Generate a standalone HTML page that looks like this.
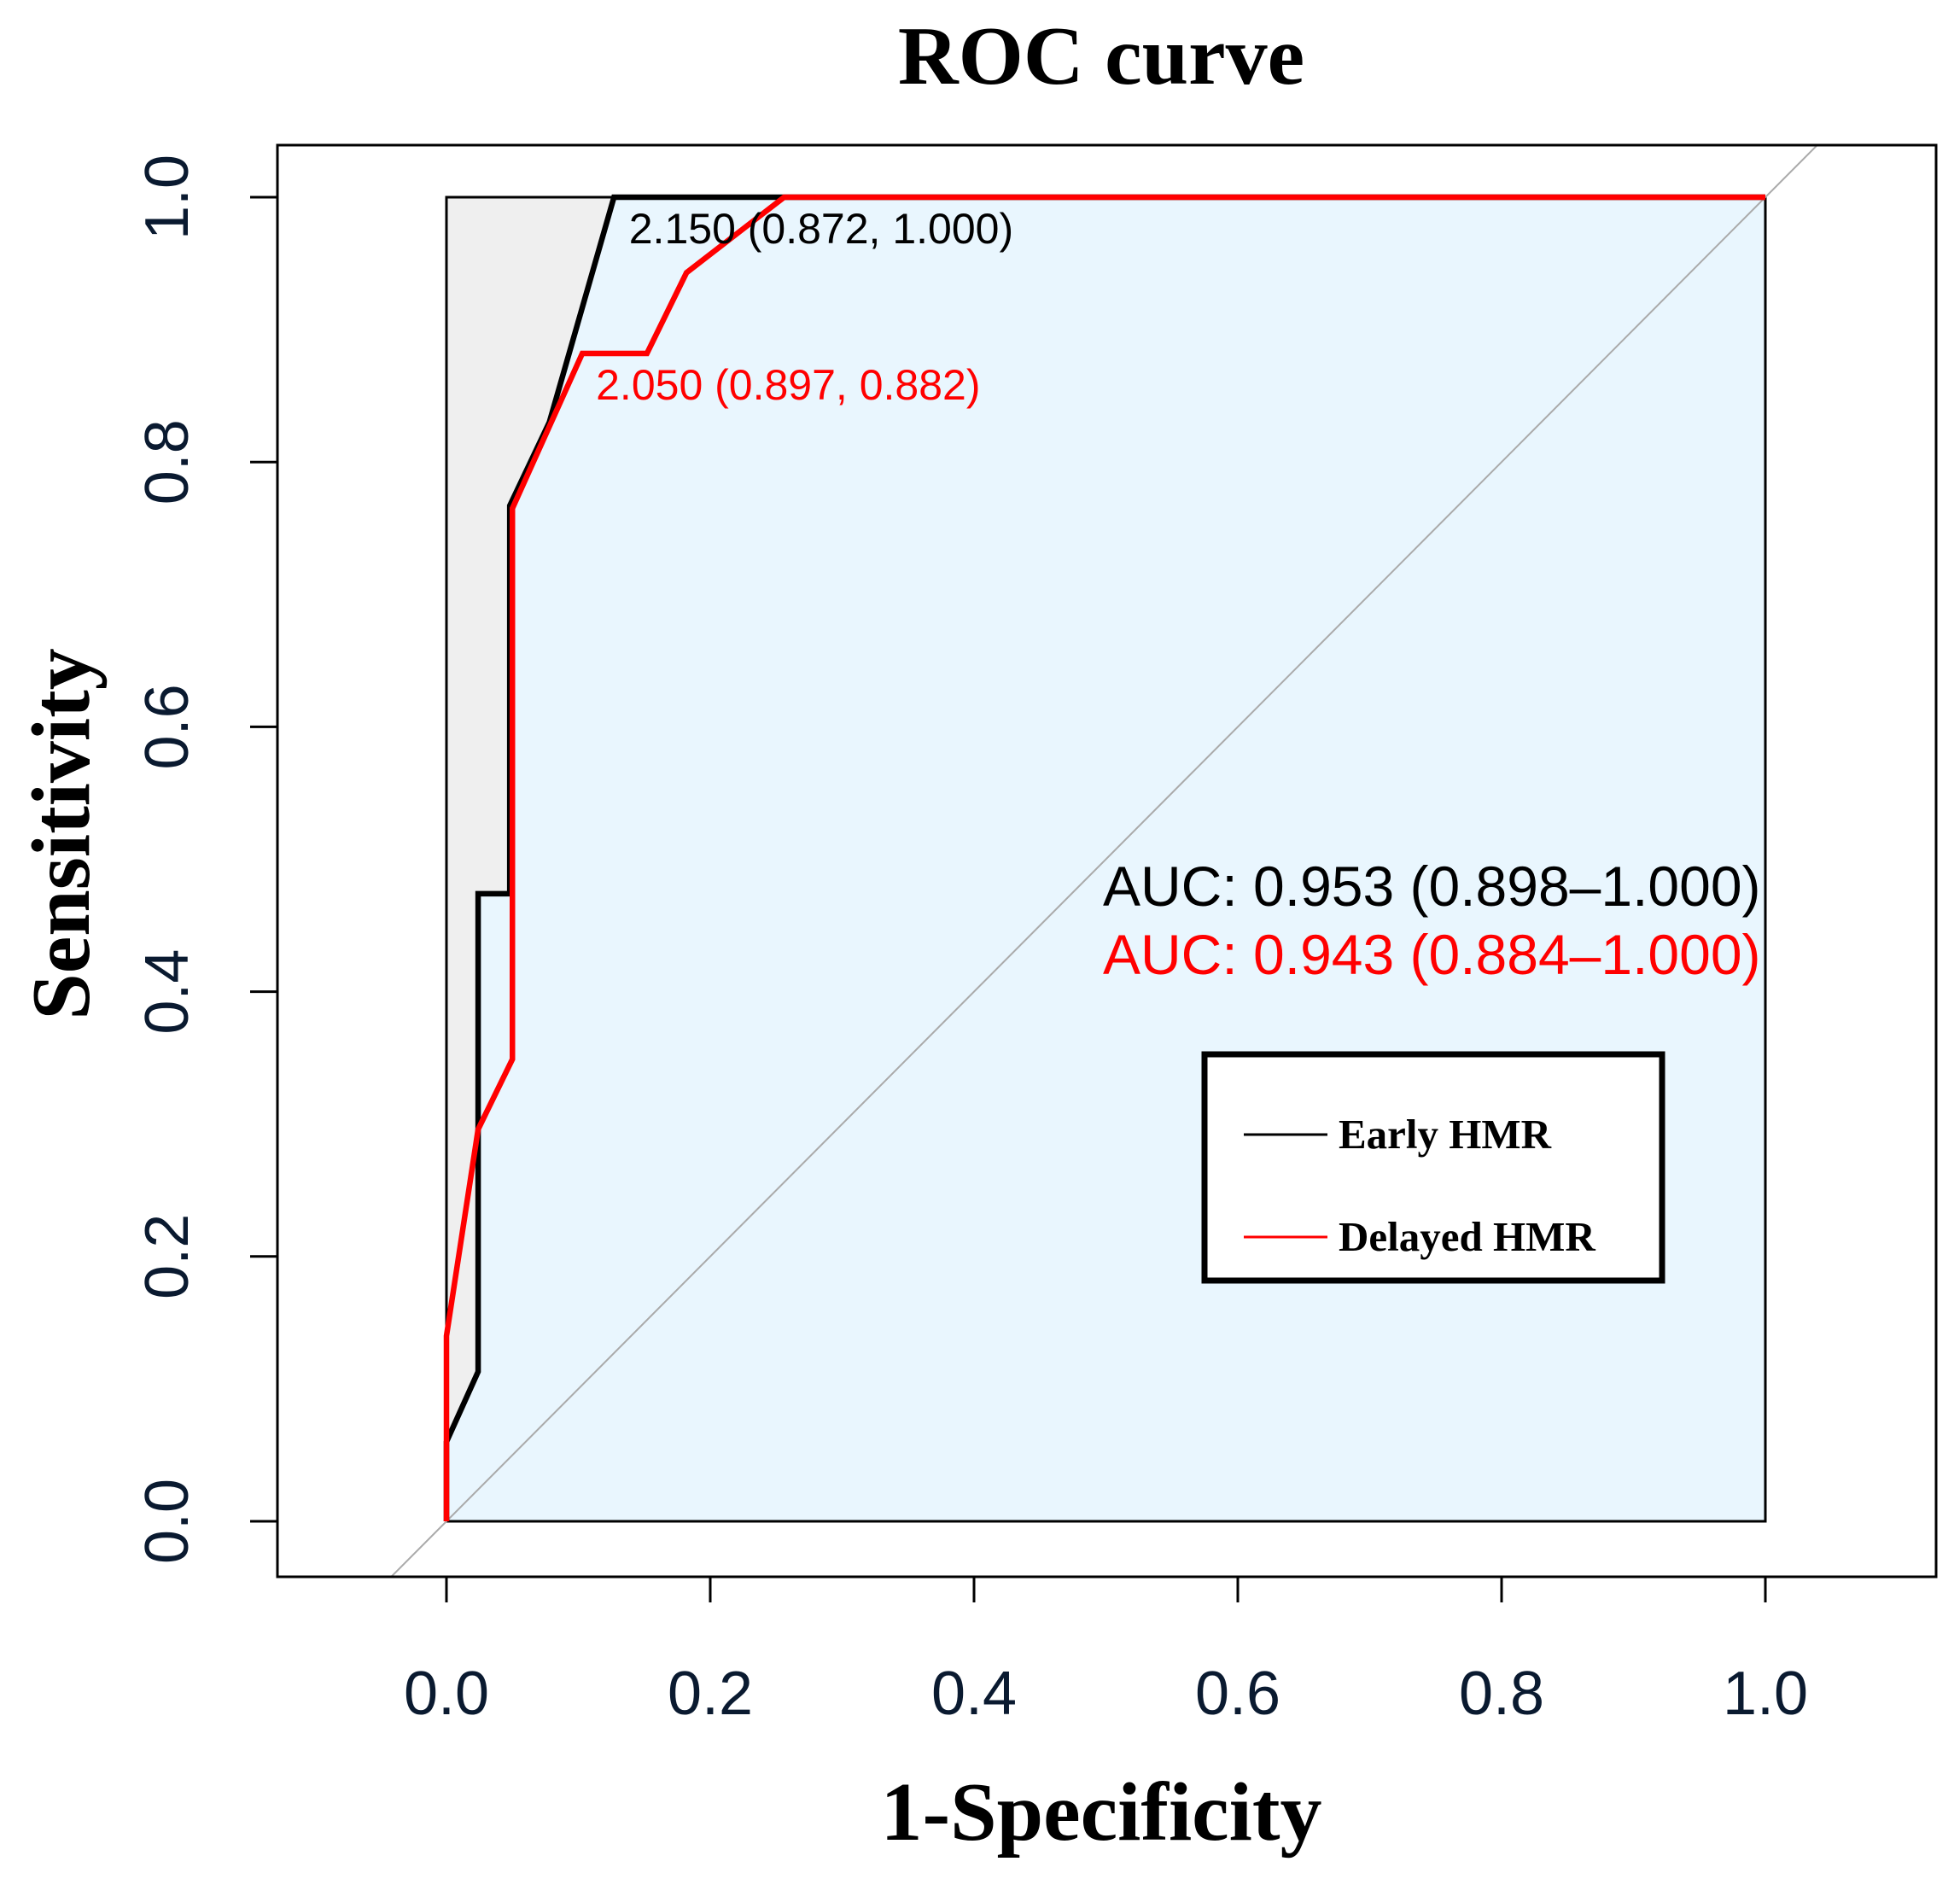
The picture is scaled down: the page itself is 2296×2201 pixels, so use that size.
<!DOCTYPE html>
<html><head><meta charset="utf-8"><style>
html,body{margin:0;padding:0;background:#fff;}
svg{display:block;}
</style></head><body>
<svg id="chart" width="2296" height="2201" viewBox="0 0 2296 2201" xmlns="http://www.w3.org/2000/svg">
<defs><clipPath id="clipOuter"><rect x="325" y="170" width="1946" height="1677"/></clipPath></defs>
<g id="layer"></g>
</svg>
<script>
// ---- data ----
const xTicks = [0, 0.2, 0.4, 0.6, 0.8, 1.0];
const xTickLabels = ["0.0","0.2","0.4","0.6","0.8","1.0"];
const yTicks = [0, 0.2, 0.4, 0.6, 0.8, 1.0];
const yTickLabels = ["0.0","0.2","0.4","0.6","0.8","1.0"];
const earlyFpr = [0, 0, 0.024, 0.024, 0.048, 0.048, 0.078, 0.127, 1];
const earlyTpr = [0, 0.06, 0.113, 0.474, 0.474, 0.767, 0.83, 1.0, 1.0];
const delayedFpr = [0, 0, 0.024, 0.05, 0.05, 0.103, 0.152, 0.182, 0.256, 1];
const delayedTpr = [0, 0.14, 0.296, 0.349, 0.765, 0.882, 0.882, 0.943, 1.0, 1.0];
const annotFpr = [0.872, 0.897];
const annotTpr = [1.000, 0.882];
const annotLabels = ["2.150 (0.872, 1.000)", "2.050 (0.897, 0.882)"];
const aucLabels = ["AUC: 0.953 (0.898\u20131.000)", "AUC: 0.943 (0.884\u20131.000)"];

// ---- axes ----
const X0 = 523, X1 = 2068, Y0 = 1782, Y1 = 231;
const sx = v => X0 + v * (X1 - X0);
const sy = v => Y0 - v * (Y0 - Y1);
const NS = "http://www.w3.org/2000/svg";
const layer = document.getElementById('layer');
function mk(tag, attrs, parent) {
  const e = document.createElementNS(NS, tag);
  for (const k in attrs) e.setAttribute(k, attrs[k]);
  (parent || layer).appendChild(e);
  return e;
}
const serif = '"Liberation Serif", serif';
const sans = '"Liberation Sans", sans-serif';

// title
let t = mk('text', {x: 1290, y: 98, 'text-anchor': 'middle', 'font-family': serif, 'font-weight': 'bold', 'font-size': 98, fill: '#000'});
t.textContent = 'ROC curve';



// inner box gray background
let r = mk('rect', {x: X0, y: Y1, width: X1 - X0, height: Y0 - Y1, fill: '#efefef', stroke: 'none'});



// blue area under early curve
let pts = earlyFpr.map((f, i) => sx(f) + ',' + sy(earlyTpr[i])).join(' ') + ' ' + sx(1) + ',' + sy(0);
let area = mk('polygon', {points: pts, fill: '#e9f6fe', stroke: 'none'});



// inner box border
let ib = mk('rect', {x: X0, y: Y1, width: X1 - X0, height: Y0 - Y1, fill: 'none', stroke: '#000', 'stroke-width': 3});



// diagonal
let dg = mk('line', {x1: sx(-0.2), y1: sy(-0.2), x2: sx(1.2), y2: sy(1.2), stroke: '#aaa', 'stroke-width': 2, 'clip-path': 'url(#clipOuter)'});



// outer frame
let ob = mk('rect', {x: 325, y: 170, width: 1943, height: 1677, fill: 'none', stroke: '#000', 'stroke-width': 3});



// x ticks
xTicks.forEach((v, i) => {
  const l = mk('line', {x1: sx(v), y1: 1847, x2: sx(v), y2: 1877, stroke: '#000', 'stroke-width': 3});
  
  
  const tx = mk('text', {x: sx(v), y: 2008, 'text-anchor': 'middle', 'font-family': sans, 'font-size': 72, fill: '#0a1a30'});
  tx.textContent = xTickLabels[i];
  
  
});
// y ticks
yTicks.forEach((v, i) => {
  const l = mk('line', {x1: 325, y1: sy(v), x2: 293, y2: sy(v), stroke: '#000', 'stroke-width': 3});
  
  
  const tx = mk('text', {x: 0, y: 0, 'text-anchor': 'middle', 'font-family': sans, 'font-size': 72, fill: '#0a1a30', transform: `translate(220,${sy(v)}) rotate(-90)`});
  tx.textContent = yTickLabels[i];
  
  
});

// axis titles
let xt = mk('text', {x: 1290, y: 2155, 'text-anchor': 'middle', 'font-family': serif, 'font-weight': 'bold', 'font-size': 98, fill: '#000'});
xt.textContent = '1-Specificity';


let yt = mk('text', {x: 0, y: 0, 'text-anchor': 'middle', 'font-family': serif, 'font-weight': 'bold', 'font-size': 98, fill: '#000', transform: 'translate(104,977) rotate(-90)'});
yt.textContent = 'Sensitivity';



// curves
function curve(fx, ty, color, name) {
  const p = fx.map((f, i) => sx(f) + ',' + sy(ty[i])).join(' ');
  const pl = mk('polyline', {points: p, fill: 'none', stroke: color, 'stroke-width': 6.5, 'stroke-linejoin': 'miter'});
  
  
}
curve(earlyFpr, earlyTpr, '#000', 'early-hmr-curve');
curve(delayedFpr, delayedTpr, '#ff0000', 'delayed-hmr-curve');

// threshold annotations (specificity reversed: x = 1 - spec)
const annColors = ['#000', '#ff0000'];
annotLabels.forEach((s, i) => {
  const tx = mk('text', {x: sx(1 - annotFpr[i]) + 16, y: sy(annotTpr[i]) + 54, 'font-family': sans, 'font-size': 50, fill: annColors[i]});
  tx.textContent = s;
  
  
});

// AUC labels
aucLabels.forEach((s, i) => {
  const tx = mk('text', {x: 1292, y: 1061 + i * 80, 'font-family': sans, 'font-size': 66, fill: annColors[i]});
  tx.textContent = s;
  
  
});

// legend
let lg = mk('g', {});


mk('rect', {x: 1411, y: 1235, width: 536, height: 265, fill: '#fff', stroke: '#000', 'stroke-width': 7}, lg);
const legNames = ['Early HMR', 'Delayed HMR'];
legNames.forEach((s, i) => {
  const y = 1329 + i * 120;
  const l = mk('line', {x1: 1457, y1: y, x2: 1555, y2: y, stroke: annColors[i], 'stroke-width': 3}, lg);
  
  
  const tx = mk('text', {x: 1568, y: y + 16, 'font-family': serif, 'font-weight': 'bold', 'font-size': 49, fill: '#000'}, lg);
  tx.textContent = s;
  
  
});
</script>
</body></html>
